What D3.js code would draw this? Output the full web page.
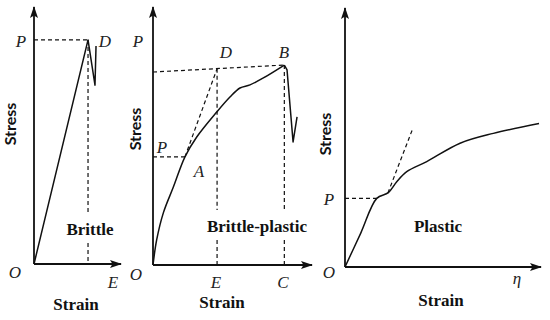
<!DOCTYPE html>
<html><head><meta charset="utf-8">
<script src="https://cdn.jsdelivr.net/npm/d3@7"></script>
<style>body{margin:0;background:#fff}</style>
</head><body><svg id="c" width="550" height="320"></svg>
<script>
// ---------- Panel 1: Brittle ----------
const brittleStrain = [0, 62.1, 70.1, 71.3];
const brittleStress = [0, 87.2, 69.6, 84.8];
const brittlePeak = [62.1, 87.2];           // D (strain, stress)

// ---------- Panel 2: Brittle-plastic ----------
const bpCurveStrain = [0, 2.3, 6.5, 12.8, 20.1, 27.5, 40.1, 48.4, 54.7, 61.0, 69.4, 82.6];
const bpCurveStress = [0, 9.7, 20.2, 30.2, 41.9, 49.6, 59.3, 65.1, 68.6, 69.8, 72.5, 77.5];
const bpDropStrain = [82.6, 84.3, 88.1, 90.6];
const bpDropStress = [77.5, 75.6, 47.7, 57.4];
const bpPointA = [20.1, 41.9];
const bpPointD = [40.3, 76.1];
const bpPointB = [82.6, 77.5];
const bpTopStartStress = 74.8;

// ---------- Panel 3: Plastic ----------
const plCurveStrain = [0, 8.1, 16.2, 22.1, 26.4, 31.5, 41.7, 58.7, 75.7, 99];
const plCurveStress = [0, 13.2, 26.5, 28.7, 32.9, 36.8, 40.7, 47.8, 51.6, 55.4];
const plTangentStrain = [21.9, 34.7];
const plTangentStress = [28.6, 53.7];
const plYield = [16.2, 26.5];

const svg = d3.select('#c');
svg.append('rect').attr('width',550).attr('height',320).attr('fill','#fff');
const defs = svg.append('defs');
defs.append('marker').attr('id','arr').attr('viewBox','0 0 12 8')
  .attr('markerUnits','userSpaceOnUse').attr('markerWidth',12).attr('markerHeight',8)
  .attr('refX',11).attr('refY',4).attr('orient','auto')
  .append('path').attr('d','M0,0 L12,4 L0,8 L2.5,4 Z').attr('fill','#111');

const INK = '#111';
const serifB = "'Liberation Serif','Times New Roman',serif";

function makePanel(xr, yr){
  const x = d3.scaleLinear().domain([0,100]).range(xr);
  const y = d3.scaleLinear().domain([0,100]).range(yr);
  const g = svg.append('g');
  // axes via d3 axes (no ticks), arrow at end
  const ax = g.append('g').attr('transform',`translate(0,${y(0)})`)
    .call(d3.axisBottom(x).tickValues([]).tickSizeOuter(0));
  ax.select('.domain').attr('stroke',INK).attr('stroke-width',1.8).attr('marker-end','url(#arr)');
  const ay = g.append('g').attr('transform',`translate(${x(0)},0)`)
    .call(d3.axisLeft(y).tickValues([]).tickSizeOuter(0));
  ay.select('.domain').attr('stroke',INK).attr('stroke-width',1.8).attr('marker-end','url(#arr)');
  // axisLeft domain goes from bottom? ensure path direction upward
  ay.select('.domain').attr('d',`M0,${y(0)}V${y(100)}`);
  ax.select('.domain').attr('d',`M${x(0)},0H${x(100)}`);
  return {x,y,g};
}
function dashed(g, pts){
  g.append('path').attr('d', d3.line()(pts)).attr('fill','none')
   .attr('stroke',INK).attr('stroke-width',1.2).attr('stroke-dasharray','4,3');
}
function solid(g, pts, curve){
  g.append('path').attr('d', d3.line().curve(curve||d3.curveLinear)(pts)).attr('fill','none')
   .attr('stroke',INK).attr('stroke-width',1.5).attr('stroke-linejoin','round');
}
function ital(g, t, px, py, size){
  g.append('text').attr('x',px).attr('y',py).attr('text-anchor','middle')
   .attr('font-family',serifB).attr('font-style','italic').attr('font-size',size||17)
   .attr('fill','#222').text(t);
}
function bold(g, t, px, py){
  g.append('text').attr('x',px).attr('y',py).attr('text-anchor','middle')
   .attr('font-family',serifB).attr('font-weight','bold').attr('font-size',17)
   .attr('fill','#111').text(t);
}
function stress(g, px, py){
  g.append('text').attr('transform',`translate(${px},${py}) rotate(-90)`).attr('text-anchor','middle')
   .attr('font-family',"Lato,'Open Sans',sans-serif").attr('font-weight','bold').attr('font-size',16)
   .attr('fill','#111').text('Stress');
}

// ---- Panel 1 ----
{
  const {x,y,g} = makePanel([34,121],[264,7]);
  const [dx,dy] = brittlePeak;
  dashed(g, [[x(0),y(dy)],[x(dx),y(dy)]]);
  const lblY = 235;
  dashed(g, [[x(dx),y(dy)],[x(dx),lblY-23]]);
  dashed(g, [[x(dx),lblY+8],[x(dx),y(0)]]);
  solid(g, brittleStrain.map((s,i)=>[x(s),y(brittleStress[i])]));
  ital(g,'P',21,47); ital(g,'D',105,47); ital(g,'O',15,278); ital(g,'E',113,288);
  bold(g,'Brittle',90,lblY); bold(g,'Strain',76,310);
  stress(g,16,124);
}
// ---- Panel 2 ----
{
  const {x,y,g} = makePanel([153,312],[265,7]);
  const lblY = 232;
  dashed(g, [[x(0),y(bpTopStartStress)],[x(bpPointB[0]),y(bpPointB[1])]]);
  dashed(g, [[x(0),y(bpPointA[1])],[x(bpPointA[0]),y(bpPointA[1])]]);
  dashed(g, [[x(bpPointA[0]),y(bpPointA[1])],[x(bpPointD[0]),y(bpPointD[1])]]);
  [bpPointD, bpPointB].forEach(p=>{
    dashed(g, [[x(p[0]),y(p[1])],[x(p[0]),lblY-22]]);
    dashed(g, [[x(p[0]),lblY+8],[x(p[0]),y(0)]]);
  });
  solid(g, bpCurveStrain.map((s,i)=>[x(s),y(bpCurveStress[i])]), d3.curveCatmullRom.alpha(0.5));
  solid(g, bpDropStrain.map((s,i)=>[x(s),y(bpDropStress[i])]));
  ital(g,'P',138,47); ital(g,'D',226,58); ital(g,'B',284,58);
  ital(g,'P',162,153); ital(g,'A',199,177);
  ital(g,'O',136,280); ital(g,'E',216,288); ital(g,'C',283,288);
  bold(g,'Brittle-plastic',257,lblY); bold(g,'Strain',222,308);
  stress(g,141,129);
}
// ---- Panel 3 ----
{
  const {x,y,g} = makePanel([345,541],[267,8]);
  dashed(g, [[x(0),y(plYield[1])],[x(plYield[0]),y(plYield[1])]]);
  dashed(g, plTangentStrain.map((s,i)=>[x(s),y(plTangentStress[i])]));
  solid(g, plCurveStrain.map((s,i)=>[x(s),y(plCurveStress[i])]), d3.curveCatmullRom.alpha(0.5));
  ital(g,'P',329,205); ital(g,'O',329,278); ital(g,'η',517,284);
  bold(g,'Plastic',438,232); bold(g,'Strain',441,306);
  stress(g,331,134);
}
</script></body></html>
